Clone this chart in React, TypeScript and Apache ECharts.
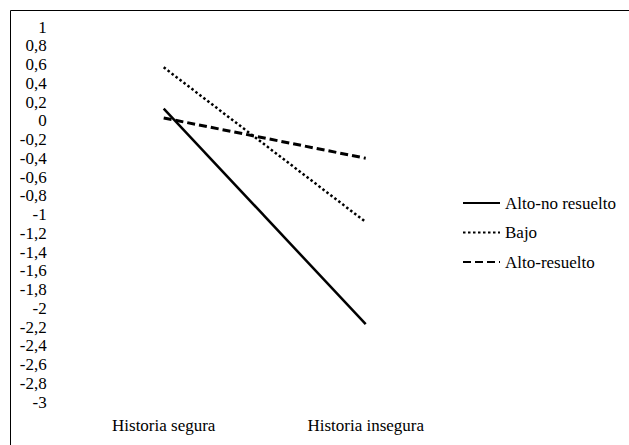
import React, { useEffect, useRef } from "react";
import * as echarts from "echarts";

const categories = ["Historia segura", "Historia insegura"];
const seriesNames = ["Alto-no resuelto", "Bajo", "Alto-resuelto"];
const altoNoResuelto = [0.13, -2.17];
const bajo = [0.57, -1.08];
const altoResuelto = [0.03, -0.4];

const FONT = "Liberation Serif";
const FS = 17;

export default function App() {
  const ref = useRef<HTMLDivElement>(null);
  useEffect(() => {
    if (!ref.current) return;
    const chart = echarts.init(ref.current, null, { renderer: "svg" });
    chart.setOption({
      animation: false,
      backgroundColor: "#ffffff",
      textStyle: { fontFamily: FONT, color: "#000" },
      graphic: [
        {
          type: "rect",
          shape: { x: 10.5, y: 10.5, width: 700, height: 500 },
          style: { fill: "none", stroke: "#000", lineWidth: 1 },
          silent: true,
        },
      ],
      grid: { left: 62.7, width: 404, top: 27, height: 375 },
      legend: {
        orient: "vertical",
        left: 462,
        top: 194.5,
        padding: 0,
        itemWidth: 37,
        itemHeight: 17,
        itemGap: 12.5,
        itemStyle: { opacity: 0 },
        textStyle: { fontFamily: FONT, fontSize: FS, color: "#000" },
        data: seriesNames,
      },
      xAxis: {
        type: "category",
        data: categories,
        boundaryGap: true,
        axisLine: { show: false },
        axisTick: { show: false },
        splitLine: { show: false },
        axisLabel: { fontFamily: FONT, fontSize: FS, color: "#000", margin: 15 },
      },
      yAxis: {
        type: "value",
        min: -3,
        max: 1,
        interval: 0.2,
        axisLine: { show: false },
        axisTick: { show: false },
        splitLine: { show: false },
        axisLabel: {
          fontFamily: FONT,
          fontSize: FS,
          color: "#000",
          margin: 16,
          formatter: (v: number) => {
            const r = Math.round(v * 10) / 10;
            return (r === 0 ? "0" : String(r)).replace(".", ",");
          },
        },
      },
      series: [
        {
          name: seriesNames[0],
          type: "line",
          data: altoNoResuelto,
          symbol: "none",
          lineStyle: { color: "#000", width: 2.5, type: "solid" },
          itemStyle: { color: "#000" },
        },
        {
          name: seriesNames[1],
          type: "line",
          data: bajo,
          symbol: "none",
          lineStyle: { color: "#000", width: 2.5, type: [2.5, 2.5] },
          itemStyle: { color: "#000" },
        },
        {
          name: seriesNames[2],
          type: "line",
          data: altoResuelto,
          symbol: "none",
          lineStyle: { color: "#000", width: 3, type: [8, 4] },
          itemStyle: { color: "#000" },
        },
      ],
    });
    return () => chart.dispose();
  }, []);
  return (
    <div
      ref={ref}
      style={{ position: "absolute", left: 0, top: 0, width: 629, height: 445 }}
    />
  );
}
